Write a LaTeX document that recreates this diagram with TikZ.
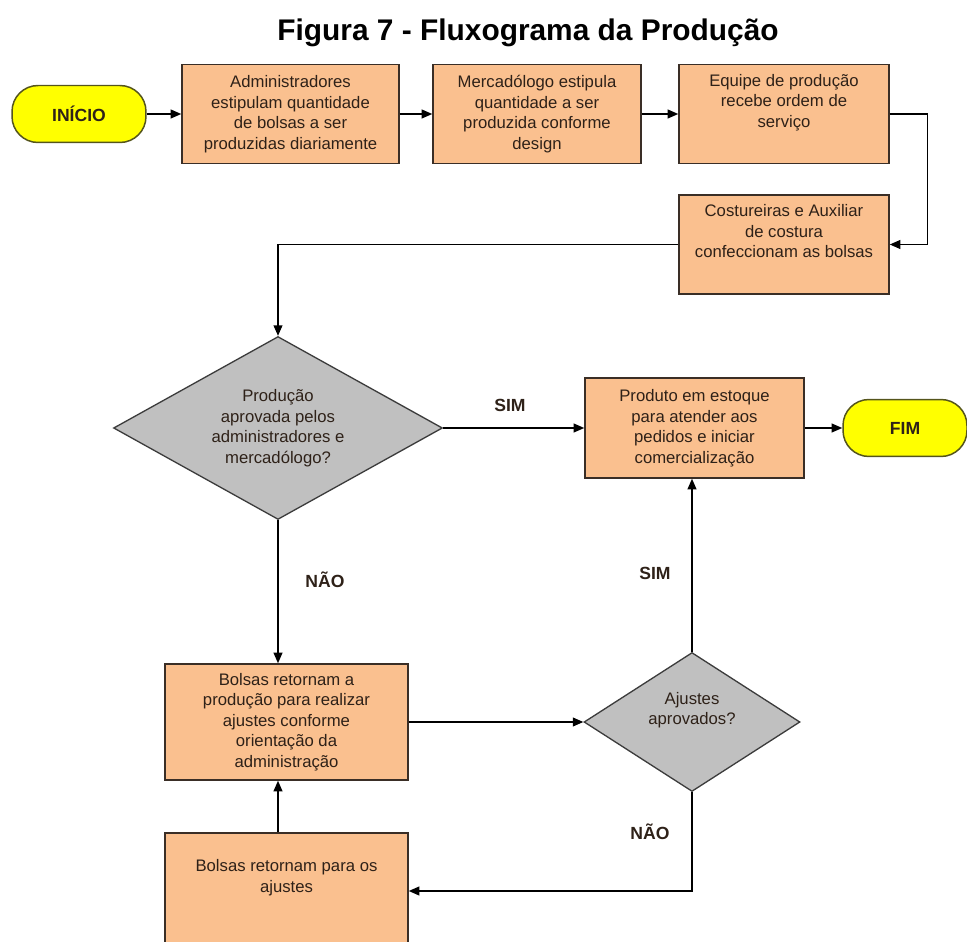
\documentclass[tikz,border=0pt]{standalone}
\usepackage{fontspec}
\setmainfont{Liberation Sans}
\usepackage{xcolor}
\definecolor{fxink}{HTML}{2E2118}
\definecolor{fxpeach}{HTML}{FAC08F}
\definecolor{fxedge}{HTML}{3A2E26}
\definecolor{fxgrey}{HTML}{C0C0C0}
\definecolor{fxgreyedge}{HTML}{3C3C3C}
\definecolor{fxyellow}{HTML}{FFFF00}
\definecolor{fxolive}{HTML}{55551C}
\usetikzlibrary{arrows.meta,positioning,shapes.geometric}
\tikzset{
  fxbox/.style     ={rectangle, draw=fxedge, fill=fxpeach, line width=0.85pt,
                     align=center, inner sep=2pt, text=fxink,
                     font=\fontsize{9.5pt}{11.7pt}\selectfont},
  fxdecision/.style={diamond, draw=fxgreyedge, fill=fxgrey, line width=0.75pt,
                     align=center, inner sep=0pt, text=fxink,
                     font=\fontsize{9.5pt}{11.7pt}\selectfont},
  fxterm/.style    ={rectangle, rounded corners=0.52cm, draw=fxolive, fill=fxyellow,
                     line width=0.85pt, minimum width=2.68cm, minimum height=1.14cm,
                     font=\fontsize{10pt}{12pt}\selectfont\bfseries, text=fxink},
  fxarrow/.style   ={-{Stealth[length=6pt,width=5pt,inset=0pt]}, line width=0.85pt, draw=black},
  fxlbl/.style     ={font=\fontsize{10pt}{12pt}\selectfont\bfseries, text=fxink},
}

\begin{document}
\begin{tikzpicture}[x=0.02cm, y=-0.02cm]
  \useasboundingbox (0,0) rectangle (967,942);
  \node[font=\fontsize{17pt}{20pt}\selectfont\bfseries] (title) at (528,33)
    {Figura 7 - Fluxograma da Produção};

  % top row
  \node[fxterm] (ini) at (79,114) {INÍCIO};
  \node[fxbox, minimum width=4.34cm, minimum height=1.98cm] (adm) at (290.5,114)
    {Administradores\\estipulam quantidade\\de bolsas a ser\\produzidas diariamente};
  \node[fxbox, minimum width=4.16cm, minimum height=1.98cm] (merc) at (537,114)
    {Mercadólogo estipula\\quantidade a ser\\produzida conforme\\design};
  \node[fxbox, minimum width=4.2cm, minimum height=1.98cm] (equipe) at (784,114)
    {Equipe de produção\\recebe ordem de\\serviço\\\strut};
  \node[fxbox, minimum width=4.2cm, minimum height=1.98cm] (costura) at (784,244.5)
    {Costureiras e Auxiliar\\de costura\\confeccionam as bolsas\\\strut};

  % decision on production
  \node[fxdecision, minimum width=6.58cm, minimum height=3.66cm, aspect=1.8] (aprov) at (278,428)
    {Produção\\aprovada pelos\\administradores e\\mercadólogo?};
  \node[fxbox, minimum width=4.38cm, minimum height=2cm] (estoque) at (694.5,428)
    {Produto em estoque\\para atender aos\\pedidos e iniciar\\comercialização};
  \node[fxterm, minimum width=2.48cm] (fim) at (905,428) {FIM};

  % adjustments loop
  \node[fxbox, minimum width=4.86cm, minimum height=2.32cm] (retorno) at (286.5,722)
    {Bolsas retornam a\\produção para realizar\\ajustes conforme\\orientação da\\administração};
  \node[fxdecision, minimum width=4.32cm, minimum height=2.78cm, aspect=1.55] (ajustes) at (692,722)
    {Ajustes\\aprovados?\\\strut};
  \node[fxbox, minimum width=4.86cm, minimum height=2.32cm] (ajbox) at (286.5,891)
    {Bolsas retornam para os\\ajustes\\[2pt]\strut};

  \node[fxlbl] (sim1) at (510,405) {SIM};
  \node[fxlbl] (nao1) at (325,580) {NÃO};
  \node[fxlbl] (sim2) at (655,573) {SIM};
  \node[fxlbl] (nao2) at (650,832) {NÃO};

  \draw[fxarrow] (ini) -- (adm);
  \draw[fxarrow] (adm) -- (merc);
  \draw[fxarrow] (merc) -- (equipe);
  \draw[fxarrow] (equipe.east) -- ++(38,0) |- (costura.east);
  \draw[fxarrow] (costura.west) -| (aprov.north);
  \draw[fxarrow] (aprov.east) -- (estoque.west);
  \draw[fxarrow] (estoque.east) -- (fim.west);
  \draw[fxarrow] (aprov.south) -- (aprov.south |- retorno.north);
  \draw[fxarrow] (retorno.east) -- (ajustes.west);
  \draw[fxarrow] (ajustes.north) -- (ajustes.north |- estoque.south);
  \draw[fxarrow] (ajustes.south) |- (ajbox.east);
  \draw[fxarrow] (ajbox.north -| aprov.south) -- (retorno.south -| aprov.south);
\end{tikzpicture}
\end{document}
